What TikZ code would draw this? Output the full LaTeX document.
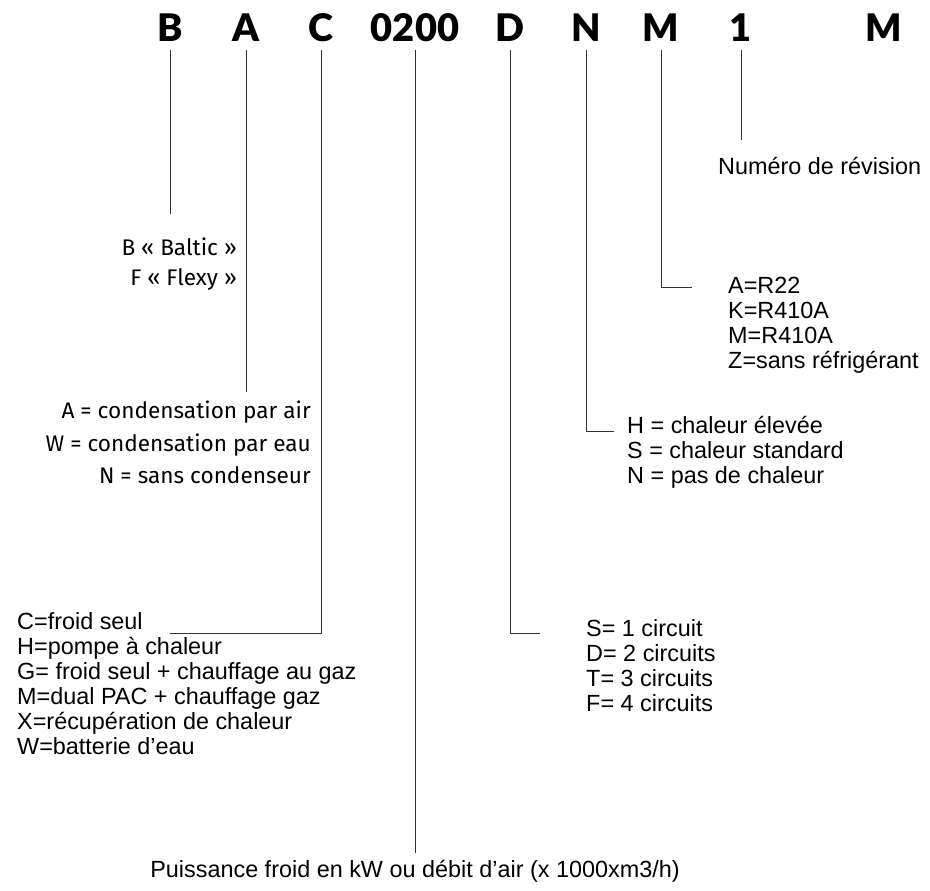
\documentclass[tikz,border=0pt]{standalone}
\usepackage{fontspec}
\setmainfont{Liberation Sans}
\newfontfamily\headfont{Lato Black}
\newfontfamily\upfont{Fira Sans}
\begin{document}
\begin{tikzpicture}[x=1pt,y=-1pt,
  head/.style={font=\headfont\fontsize{38}{38}\selectfont, inner sep=0pt, anchor=base},
  lbl/.style={font=\fontsize{23.4}{25}\selectfont, inner sep=0pt},
  uplbl/.style={font=\upfont\fontsize{22.6}{30}\selectfont, inner sep=0pt},
  wire/.style={draw=black!80, line width=0.9pt}]
\useasboundingbox (0,0) rectangle (930,891);
% header
\node[head] (hB) at (170,42) {B};
\node[head] (hA) at (246,42) {A};
\node[head] (hC) at (321,42) {C};
\node[head] (hP) at (415,42) {0200};
\node[head] (hD) at (510,42) {D};
\node[head] (hN) at (586,42) {N};
\node[head] (hM) at (661,42) {M};
\node[head] (h1) at (741,42) {1};
\node[head] (hR) at (884,42) {M};
% tick starts
\coordinate (tB) at (170,50);
\coordinate (tA) at (246,50);
\coordinate (tC) at (321,50);
\coordinate (tP) at (415,50);
\coordinate (tD) at (510,50);
\coordinate (tN) at (586,50);
\coordinate (tM) at (661,50);
\coordinate (t1) at (741,50);
% ends
\coordinate (eB) at (170,214);
\coordinate (eA) at (246,392);
\coordinate (cC) at (321,633);
\coordinate (eC) at (170,633);
\coordinate (eP) at (415,853);
\coordinate (cD) at (510,633);
\coordinate (eD) at (540,633);
\coordinate (cN) at (586,431);
\coordinate (eN) at (614,431);
\coordinate (cM) at (661,287);
\coordinate (eM) at (692,287);
\coordinate (e1) at (741,140);
% wires
\draw[wire] (tB) -- (eB);
\draw[wire] (tA) -- (eA);
\draw[wire] (tC) -- (cC) -- (eC);
\draw[wire] (tP) -- (eP);
\draw[wire] (tD) -- (cD) -- (eD);
\draw[wire] (tN) -- (cN) -- (eN);
\draw[wire] (tM) -- (cM) -- (eM);
\draw[wire] (t1) -- (e1);
% labels
\node[lbl, anchor=base west] (l1) at (718,175) {Numéro de révision};
\node[uplbl, anchor=base east] (lB1) at (237,255) {B « Baltic »};
\node[uplbl, anchor=base east] (lB2) at (237,285) {F « Flexy »};
\node[uplbl, anchor=base east] (lA1) at (311,418) {A = condensation par air};
\node[uplbl, anchor=base east] (lA2) at (311,451) {W = condensation par eau};
\node[uplbl, anchor=base east] (lA3) at (311,483) {N = sans condenseur};
\node[lbl, anchor=base west] (lC1) at (17,629) {C=froid seul};
\node[lbl, anchor=base west] (lC2) at (17,654) {H=pompe à chaleur};
\node[lbl, anchor=base west] (lC3) at (17,679) {G= froid seul + chauffage au gaz};
\node[lbl, anchor=base west] (lC4) at (17,704) {M=dual PAC + chauffage gaz};
\node[lbl, anchor=base west] (lC5) at (17,729) {X=récupération de chaleur};
\node[lbl, anchor=base west] (lC6) at (17,754) {W=batterie d’eau};
\node[lbl, anchor=base west] (lD1) at (586,636) {S= 1 circuit};
\node[lbl, anchor=base west] (lD2) at (586,661) {D= 2 circuits};
\node[lbl, anchor=base west] (lD3) at (586,686) {T= 3 circuits};
\node[lbl, anchor=base west] (lD4) at (586,711) {F= 4 circuits};
\node[lbl, anchor=base west] (lN1) at (627,433) {H = chaleur élevée};
\node[lbl, anchor=base west] (lN2) at (627,458) {S = chaleur standard};
\node[lbl, anchor=base west] (lN3) at (627,483) {N = pas de chaleur};
\node[lbl, anchor=base west] (lM1) at (728,293) {A=R22};
\node[lbl, anchor=base west] (lM2) at (728,318) {K=R410A};
\node[lbl, anchor=base west] (lM3) at (728,343) {M=R410A};
\node[lbl, anchor=base west] (lM4) at (728,368) {Z=sans réfrigérant};
\node[lbl, anchor=base] (lP) at (415,877) {Puissance froid en kW ou débit d’air (x 1000xm3/h)};
\end{tikzpicture}
\end{document}
